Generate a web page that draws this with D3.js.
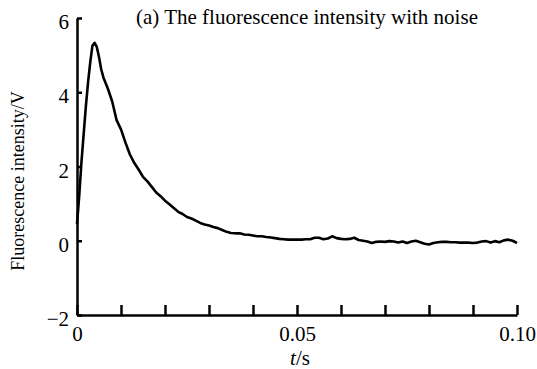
<!DOCTYPE html>
<html lang="en">
<head>
  <meta charset="utf-8" />
  <title>Fluorescence intensity with noise</title>
  <script src="https://cdnjs.cloudflare.com/ajax/libs/d3/7.8.5/d3.min.js"></script>
  <style>
    body { margin: 0; background: #fff; }
    svg { display: block; }
  </style>
</head>
<body>
<svg id="chart" width="537" height="369"></svg>
<script>
  const times = [
    0.0000, 0.0005, 0.0010, 0.0015, 0.0020, 0.0025, 0.0030, 0.0035, 0.0040, 0.0045,
    0.0050, 0.0055, 0.0060, 0.0070, 0.0080, 0.0090, 0.0100, 0.0110, 0.0120, 0.0130,
    0.0140, 0.0150, 0.0160, 0.0170, 0.0180, 0.0190, 0.0200, 0.0210, 0.0220, 0.0230,
    0.0240, 0.0250, 0.0260, 0.0270, 0.0280, 0.0290, 0.0300, 0.0310, 0.0320, 0.0330,
    0.0340, 0.0350, 0.0360, 0.0370, 0.0380, 0.0390, 0.0400, 0.0410, 0.0420, 0.0430,
    0.0440, 0.0450, 0.0460, 0.0470, 0.0480, 0.0490, 0.0500, 0.0510, 0.0520, 0.0530,
    0.0540, 0.0550, 0.0560, 0.0570, 0.0580, 0.0590, 0.0600, 0.0610, 0.0620, 0.0630,
    0.0640, 0.0650, 0.0660, 0.0670, 0.0680, 0.0690, 0.0700, 0.0710, 0.0720, 0.0730,
    0.0740, 0.0750, 0.0760, 0.0770, 0.0780, 0.0790, 0.0800, 0.0810, 0.0820, 0.0830,
    0.0840, 0.0850, 0.0860, 0.0870, 0.0880, 0.0890, 0.0900, 0.0910, 0.0920, 0.0930,
    0.0940, 0.0950, 0.0960, 0.0970, 0.0980, 0.0990, 0.1000
  ];
  const intensity = [
    0.45, 1.20, 2.10, 2.85, 3.60, 4.25, 4.80, 5.25, 5.33, 5.22,
    4.95, 4.62, 4.40, 4.10, 3.75, 3.25, 3.00, 2.65, 2.33, 2.10,
    1.92, 1.72, 1.60, 1.45, 1.30, 1.20, 1.08, 0.98, 0.88, 0.78,
    0.72, 0.64, 0.60, 0.54, 0.48, 0.44, 0.41, 0.37, 0.34, 0.29,
    0.24, 0.21, 0.20, 0.20, 0.17, 0.16, 0.14, 0.12, 0.12, 0.10,
    0.09, 0.07, 0.05, 0.04, 0.03, 0.03, 0.03, 0.03, 0.04, 0.04,
    0.08, 0.08, 0.04, 0.06, 0.12, 0.07, 0.05, 0.04, 0.05, 0.08,
    0.02, 0.00, -0.02, -0.06, -0.03, -0.02, -0.03, -0.01, -0.02, -0.05,
    -0.02, -0.06, -0.02, 0.00, -0.04, -0.08, -0.10, -0.06, -0.04, -0.03,
    -0.03, -0.04, -0.04, -0.05, -0.05, -0.05, -0.06, -0.05, -0.02, -0.01,
    -0.05, -0.01, -0.04, 0.01, 0.03, 0.00, -0.06
  ];
  const xTicks = [0, 0.01, 0.02, 0.03, 0.04, 0.05, 0.06, 0.07, 0.08, 0.09, 0.10];
  const xTickLabels = { 0: "0", 0.05: "0.05", 0.1: "0.10" };
  const yTicks = [-2, 0, 2, 4, 6];

  const FONT = "'Liberation Serif'";
  const data = times.map((t, i) => ({ t: t, v: intensity[i] }));

  const svg = d3.select("#chart");
  const margin = { top: 18, right: 20, bottom: 54, left: 77 };
  const width = 440;
  const height = 297;

  const g = svg.append("g")
    .attr("transform", "translate(" + margin.left + "," + margin.top + ")");

  const x = d3.scaleLinear().domain([0, 0.1]).range([0, width]);
  const y = d3.scaleLinear().domain([-2, 6]).range([height, 0]);

  // x axis, ticks pointing into the plot
  const xAxis = g.append("g")
    .attr("transform", "translate(0," + height + ")")
    .call(d3.axisBottom(x)
      .tickValues(xTicks)
      .tickSizeInner(-10)
      .tickSizeOuter(0)
      .tickPadding(11)
      .tickFormat(d => xTickLabels[+d.toFixed(2)] || ""));

  // y axis
  const yAxis = g.append("g")
    .call(d3.axisLeft(y)
      .tickValues(yTicks)
      .tickSizeInner(-5)
      .tickSizeOuter(0)
      .tickPadding(8)
      .tickFormat(d3.format("d")));

  [xAxis, yAxis].forEach(ax => {
    ax.attr("font-family", null).attr("font-size", null);
    ax.select(".domain").attr("stroke", "#000").attr("stroke-width", 2.5);
    ax.selectAll(".tick line").attr("stroke", "#000").attr("stroke-width", 2.5);
    ax.selectAll(".tick text")
      .attr("fill", "#000")
      .style("font-family", FONT)
      .style("font-size", "21px");
  });
  yAxis.selectAll(".tick text").attr("dy", "0.5em");

  // signal
  const line = d3.line()
    .x(d => x(d.t))
    .y(d => y(d.v));

  g.append("path")
    .datum(data)
    .attr("fill", "none")
    .attr("stroke", "#000")
    .attr("stroke-width", 2.6)
    .attr("stroke-linejoin", "round")
    .attr("d", line);

  // title
  svg.append("text")
    .attr("x", 307)
    .attr("y", 24)
    .attr("text-anchor", "middle")
    .style("font-family", FONT)
    .style("font-size", "21px")
    .text("(a) The fluorescence intensity with noise");

  // axis titles
  svg.append("text")
    .attr("transform", "translate(24,181) rotate(-90)")
    .attr("text-anchor", "middle")
    .style("font-family", FONT)
    .style("font-size", "18px")
    .text("Fluorescence intensity/V");

  const xt = svg.append("text")
    .attr("x", 300)
    .attr("y", 365)
    .attr("text-anchor", "middle")
    .style("font-family", FONT)
    .style("font-size", "21px");
  xt.append("tspan").style("font-style", "italic").text("t");
  xt.append("tspan").text("/s");
</script>
</body>
</html>
